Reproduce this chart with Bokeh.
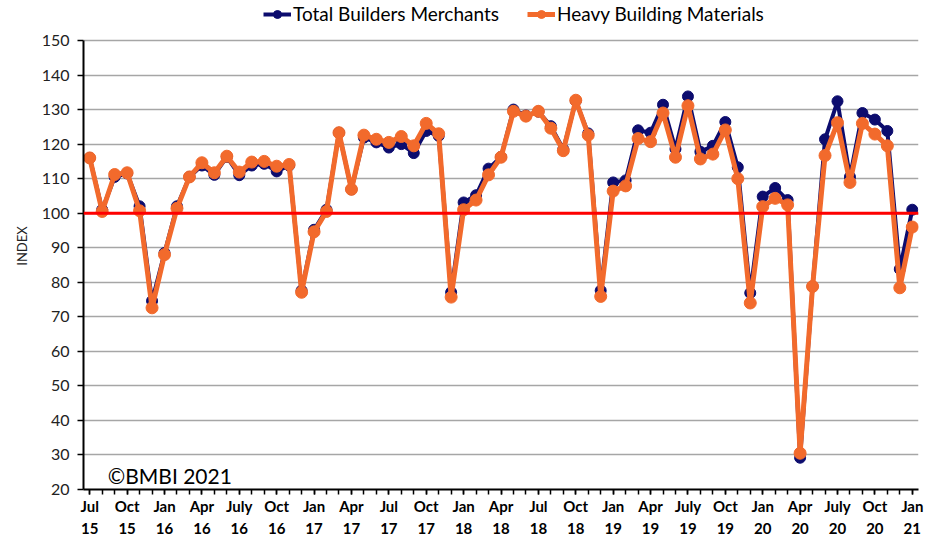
from bokeh.plotting import figure
from bokeh.models import FixedTicker, Span, Label, Legend, LegendItem, ColumnDataSource
from bokeh.embed import file_html
from bokeh.resources import INLINE

# ---- data ----
tick_labels = ["Jul\n15", "Oct\n15", "Jan\n16", "Apr\n16", "July\n16", "Oct\n16",
               "Jan\n17", "Apr\n17", "Jul\n17", "Oct\n17", "Jan\n18", "Apr\n18",
               "Jul\n18", "Oct\n18", "Jan\n19", "Apr\n19", "July\n19", "Oct\n19",
               "Jan\n20", "Apr\n20", "July\n20", "Oct\n20", "Jan\n21"]

total_builders = [116, 101, 110.5, 111.5, 102, 74.6, 88.5, 102, 110.5, 113.8,
                  111.1, 116.3, 111, 113.8, 114.3, 112.1, 113.8, 77.6, 95.2, 101,
                  123.3, 106.9, 121.9, 120.5, 119, 120, 117.4, 123.8, 122.4, 77.1,
                  103.1, 105.2, 112.9, 116.3, 130, 128.3, 129.4, 125.2, 118.5, 132.5,
                  123.1, 77.6, 108.9, 109.5, 124, 123.3, 131.4, 118.6, 133.8, 117.8,
                  119.5, 126.4, 113.3, 76.9, 104.8, 107.3, 103.8, 29.2, 78.8, 121.4,
                  132.4, 110.5, 129, 127.1, 123.8, 83.8, 101]

heavy_materials = [116, 100.5, 111.2, 111.7, 100.7, 72.6, 88, 101.4, 110.5, 114.6,
                   111.7, 116.5, 111.9, 114.8, 115, 113.6, 114.1, 77.1, 94.6, 100.5,
                   123.3, 106.9, 122.6, 121.4, 120.5, 122.2, 119.5, 126, 123, 75.7,
                   101, 103.8, 111.1, 116.2, 129.5, 128.1, 129.5, 124.6, 118.1, 132.7,
                   122.6, 75.9, 106.4, 107.9, 121.6, 120.7, 129, 116.2, 131.1, 115.7,
                   117.1, 124.1, 110, 74, 101.9, 104.3, 102.4, 30.5, 78.8, 116.7,
                   126.2, 108.9, 126, 122.9, 119.5, 78.4, 96]

y_ticks = list(range(20, 151, 10))
baseline_value = 100
months = list(range(len(total_builders)))
major_positions = months[::3]

FONT = "Lato"
NAVY = "#0C0C6E"
ORANGE = "#F26A2C"

# the range above 150 leaves room for the legend inside the frame
p = figure(width=928, height=540, output_backend="svg", toolbar_location=None,
           x_range=(-0.5, len(months) - 0.5), y_range=(20, 161),
           min_border_left=83, min_border_right=10, min_border_top=2, min_border_bottom=0)
p.outline_line_color = None
p.background_fill_color = "white"
p.border_fill_color = "white"

# grid
p.xgrid.grid_line_color = None
p.ygrid.grid_line_color = "#A6A6A6"
p.ygrid.grid_line_width = 1.5

# y axis
p.yaxis.ticker = FixedTicker(ticks=y_ticks)
p.yaxis.bounds = (y_ticks[0], y_ticks[-1])
p.yaxis.minor_tick_line_color = None
p.yaxis.major_tick_out = 6
p.yaxis.major_tick_in = 0
p.yaxis.major_tick_line_width = 1.5
p.yaxis.axis_line_width = 2
p.yaxis.axis_line_color = "black"
p.yaxis.major_label_text_font = FONT
p.yaxis.major_label_text_font_size = "16px"
p.yaxis.major_label_text_color = "#222222"
p.yaxis.major_label_standoff = 8
p.yaxis.axis_label = "INDEX"
p.yaxis.axis_label_text_font = FONT
p.yaxis.axis_label_text_font_style = "normal"
p.yaxis.axis_label_text_font_size = "13px"
p.yaxis.axis_label_text_color = "#222222"
p.yaxis.axis_label_standoff = 9

# x axis
p.xaxis.ticker = FixedTicker(ticks=major_positions, minor_ticks=months)
p.xaxis.major_label_overrides = {m: lab for m, lab in zip(major_positions, tick_labels)}
p.xaxis.major_tick_out = 5
p.xaxis.major_tick_in = 0
p.xaxis.minor_tick_out = 5
p.xaxis.minor_tick_in = 0
p.xaxis.major_tick_line_width = 1.5
p.xaxis.minor_tick_line_width = 1.5
p.xaxis.minor_tick_line_color = "black"
p.xaxis.axis_line_width = 2
p.xaxis.axis_line_color = "black"
p.xaxis.major_label_text_font = FONT
p.xaxis.major_label_text_font_size = "15px"
p.xaxis.major_label_text_font_style = "bold"
p.xaxis.major_label_text_color = "black"
p.xaxis.major_label_text_line_height = 1.25
p.xaxis.major_label_standoff = 2

# reference line at 100
p.add_layout(Span(location=baseline_value, dimension="width", line_color="#FF0000", line_width=3))

src = ColumnDataSource(dict(x=months, total=total_builders, heavy=heavy_materials))
l1 = p.line("x", "total", source=src, line_color=NAVY, line_width=4)
s1 = p.scatter("x", "total", source=src, size=11, fill_color=NAVY, line_color=NAVY)
l2 = p.line("x", "heavy", source=src, line_color=ORANGE, line_width=5)
s2 = p.scatter("x", "heavy", source=src, size=12, fill_color=ORANGE, line_color=ORANGE)

legend = Legend(items=[LegendItem(label="Total Builders Merchants", renderers=[l1, s1]),
                       LegendItem(label="Heavy Building Materials", renderers=[l2, s2])],
                orientation="horizontal", location=(180, 464),
                label_text_font=FONT, label_text_font_size="19px", label_text_color="black",
                glyph_width=28, glyph_height=20, label_height=20,
                spacing=28, padding=2, margin=0, border_line_color=None,
                background_fill_alpha=0, label_standoff=2)
p.add_layout(legend, "center")

p.add_layout(Label(x=1.45, y=24, text="\u00a9BMBI 2021", text_font=FONT,
                   text_font_size="21px", text_baseline="middle", text_color="black"))

open("out.html", "w").write(file_html(p, INLINE))
